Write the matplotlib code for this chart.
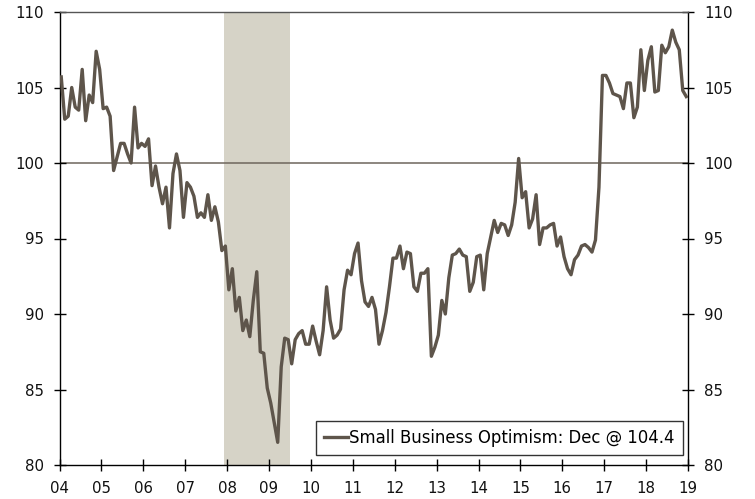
import numpy as np
import matplotlib
matplotlib.use("Agg")
import matplotlib.pyplot as plt

plt.rcParams['font.family'] = ['DejaVu Sans']

start_year = 2004
optimism = [
    105.7, 102.9, 103.1, 105.0, 103.7, 103.5, 106.2, 102.8, 104.5, 104.0, 107.4, 106.2,  # 2004
    103.6, 103.7, 103.1, 99.5, 100.4, 101.3, 101.3, 100.6, 100.0, 103.7, 101.0, 101.3,   # 2005
    101.1, 101.6, 98.5, 99.8, 98.4, 97.3, 98.4, 95.7, 99.3, 100.6, 99.5, 96.4,           # 2006
    98.7, 98.4, 97.8, 96.4, 96.7, 96.4, 97.9, 96.2, 97.1, 96.1, 94.2, 94.5,              # 2007
    91.6, 93.0, 90.2, 91.1, 88.9, 89.6, 88.5, 90.9, 92.8, 87.5, 87.4, 85.1,              # 2008
    84.1, 82.8, 81.5, 86.5, 88.4, 88.3, 86.7, 88.3, 88.7, 88.9, 88.0, 88.0,              # 2009
    89.2, 88.2, 87.3, 88.9, 91.8, 89.6, 88.4, 88.6, 89.0, 91.6, 92.9, 92.6,              # 2010
    94.0, 94.7, 92.2, 90.8, 90.5, 91.1, 90.3, 88.0, 88.9, 90.1, 91.8, 93.7,              # 2011
    93.7, 94.5, 93.0, 94.1, 94.0, 91.8, 91.5, 92.7, 92.7, 93.0, 87.2, 87.8,              # 2012
    88.6, 90.9, 90.0, 92.4, 93.9, 94.0, 94.3, 93.9, 93.8, 91.5, 92.1, 93.8,              # 2013
    93.9, 91.6, 94.0, 95.1, 96.2, 95.4, 96.0, 95.9, 95.2, 95.9, 97.4, 100.3,             # 2014
    97.7, 98.1, 95.7, 96.3, 97.9, 94.6, 95.7, 95.7, 95.9, 96.0, 94.5, 95.1,              # 2015
    93.8, 93.0, 92.6, 93.6, 93.9, 94.5, 94.6, 94.4, 94.1, 94.9, 98.4, 105.8,             # 2016
    105.8, 105.3, 104.6, 104.5, 104.4, 103.6, 105.3, 105.3, 103.0, 103.7, 107.5, 104.8,  # 2017
    106.8, 107.7, 104.7, 104.8, 107.8, 107.3, 107.7, 108.8, 108.0, 107.5, 104.8, 104.4,  # 2018
]
recession_start = 2007 + 11 / 12   # Dec 2007
recession_end = 2009 + 6 / 12      # end of Jun 2009
tick_years = list(range(2004, 2020))
tick_labels = [f"{y % 100:02d}" for y in tick_years]
y_ticks = [80, 85, 90, 95, 100, 105, 110]
legend_label = "Small Business Optimism: Dec @ 104.4"

line_color = "#5e554b"
shade_color = "#d6d3c7"

x = start_year + (np.arange(len(optimism)) + 0.5) / 12

fig = plt.figure(figsize=(7.55, 4.99), dpi=100)
ax = fig.add_axes([59.5 / 755, 1 - 465 / 499, (688 - 59.5) / 755, (465 - 12) / 499])

ax.axvspan(recession_start, recession_end, color=shade_color, lw=0, zorder=0)
ax.axhline(100, color="#6e665c", lw=1.1, zorder=1)
ax.plot(x, optimism, color=line_color, lw=2.4, label=legend_label, zorder=3,
        solid_joinstyle="round")

ax.set_xlim(2004, 2019)
ax.set_ylim(80, 110)
ax.set_xticks(tick_years)
ax.set_xticklabels(tick_labels)
ax.set_yticks(y_ticks)
ax.tick_params(axis="both", direction="inout", length=9, width=1, labelsize=10.8,
               color="black", labelcolor="#111111")
ax.tick_params(axis="x", pad=7)
ax.tick_params(axis="y", pad=7, right=True, labelright=True)

for side in ["left", "right", "bottom"]:
    ax.spines[side].set_color("black")
    ax.spines[side].set_linewidth(1)
ax.spines["top"].set_color("#555555")
ax.spines["top"].set_linewidth(1)

leg = ax.legend(loc="lower right", bbox_to_anchor=(0.992, 0.022), borderaxespad=0,
                fontsize=11.9, frameon=True, fancybox=False, edgecolor="black",
                handlelength=1.4, handletextpad=0.1, borderpad=0.5)
leg.get_frame().set_linewidth(1)

fig.savefig("out.png", dpi=100)
